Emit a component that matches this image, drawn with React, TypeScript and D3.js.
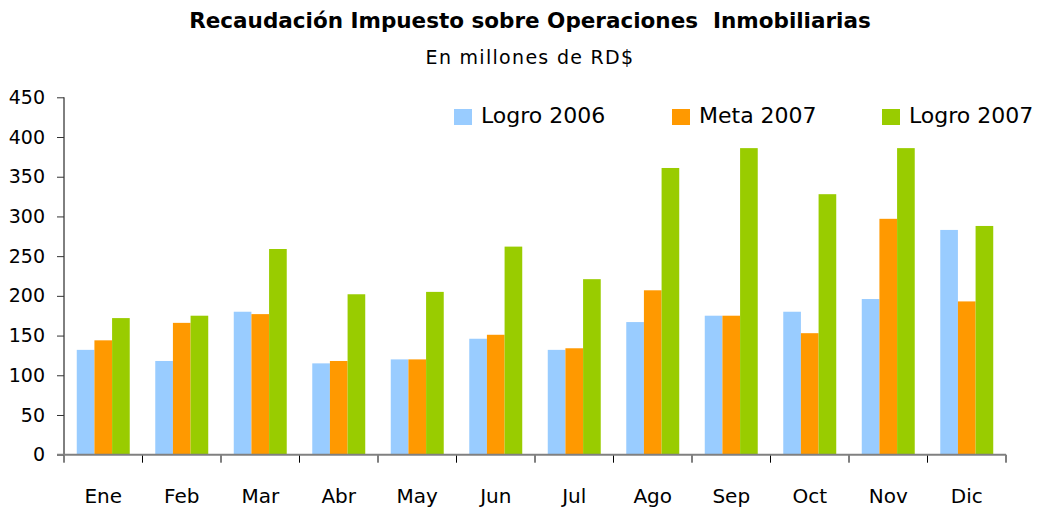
import React, { useEffect, useRef } from "react";
import * as d3 from "d3";

const months = ["Ene", "Feb", "Mar", "Abr", "May", "Jun", "Jul", "Ago", "Sep", "Oct", "Nov", "Dic"];
const seriesNames = ["Logro 2006", "Meta 2007", "Logro 2007"];
const logro2006 = [132, 118, 180, 115, 120, 146, 132, 167, 175, 180, 196, 283];
const meta2007 = [144, 166, 177, 118, 120, 151, 134, 207, 175, 153, 297, 193];
const logro2007 = [172, 175, 259, 202, 205, 262, 221, 361, 386, 328, 386, 288];
const yTicks = [0, 50, 100, 150, 200, 250, 300, 350, 400, 450];

const colors = ["#99CCFF", "#FF9900", "#99CC00"];
const font = "'DejaVu Sans', Verdana, sans-serif";

const App = () => {
  const svgRef = useRef<SVGSVGElement>(null);
  const width = 1040;
  const height = 508;

  useEffect(() => {
    const svg = d3.select(svgRef.current);
    svg.selectAll("*").remove();

    const left = 64;
    const right = 1006;
    const top = 97.3;
    const bottom = 454.7;

    const x = d3
      .scaleBand<string>()
      .domain(months)
      .range([left, right])
      .paddingInner(0.325)
      .paddingOuter(0.1625);
    const x1 = d3.scaleBand<string>().domain(seriesNames).range([0, x.bandwidth()]);
    const y = d3.scaleLinear().domain([0, 450]).range([bottom, top]);

    const table = months.map((m, i) => ({
      month: m,
      values: [logro2006[i], meta2007[i], logro2007[i]],
    }));

    // bars
    const groups = svg
      .append("g")
      .selectAll("g")
      .data(table)
      .join("g")
      .attr("transform", (d) => `translate(${x(d.month)},0)`);

    groups
      .selectAll("rect")
      .data((d) => d.values.map((v, k) => ({ name: seriesNames[k], v, k })))
      .join("rect")
      .attr("x", (d) => x1(d.name)!)
      .attr("width", x1.bandwidth())
      .attr("y", (d) => y(d.v))
      .attr("height", (d) => y(0) - y(d.v))
      .attr("fill", (d) => colors[d.k]);

    // y axis
    const yAxis = d3
      .axisLeft(y)
      .tickValues(yTicks)
      .tickSize(7)
      .tickPadding(12)
      .tickFormat((d) => String(d));
    const gy = svg.append("g").attr("transform", `translate(${left},0)`).call(yAxis);
    gy.select(".domain").attr("stroke", "#000").attr("d", `M0,${top}V${bottom}`);
    gy.selectAll(".tick line").attr("stroke", "#333");
    gy.selectAll(".tick text")
      .attr("font-family", font)
      .attr("font-size", 19)
      .attr("fill", "#000");

    // x axis
    const edges = months.map((m) => x(m)! - (x.step() - x.bandwidth()) / 2).concat([right]);
    svg
      .append("g")
      .selectAll("line")
      .data(edges)
      .join("line")
      .attr("x1", (d) => d)
      .attr("x2", (d) => d)
      .attr("y1", bottom)
      .attr("y2", bottom + 8)
      .attr("stroke", "#000");
    svg
      .append("line")
      .attr("x1", left - 7)
      .attr("x2", right)
      .attr("y1", bottom)
      .attr("y2", bottom)
      .attr("stroke", "#808080")
      .attr("stroke-width", 2);

    svg
      .append("g")
      .selectAll("text")
      .data(months)
      .join("text")
      .attr("x", (d) => x(d)! + x.bandwidth() / 2)
      .attr("y", 503)
      .attr("text-anchor", "middle")
      .attr("font-family", font)
      .attr("font-size", 20)
      .attr("fill", "#000")
      .text((d) => d);

    // titles
    svg
      .append("text")
      .attr("x", 530)
      .attr("y", 28)
      .attr("text-anchor", "middle")
      .attr("font-family", font)
      .attr("font-weight", "bold")
      .attr("font-size", 21.5)
      .style("white-space", "pre")
      .text("Recaudación Impuesto sobre Operaciones  Inmobiliarias");
    svg
      .append("text")
      .attr("x", 530)
      .attr("y", 64)
      .attr("text-anchor", "middle")
      .attr("font-family", font)
      .attr("font-size", 19)
      .attr("letter-spacing", 1.3)
      .text("En millones de RD$");

    // legend
    const legendX = [454, 672, 882];
    const lg = svg
      .append("g")
      .selectAll("g")
      .data(seriesNames)
      .join("g")
      .attr("transform", (d, i) => `translate(${legendX[i]},109)`);
    lg.append("rect")
      .attr("width", 18)
      .attr("height", 16)
      .attr("fill", (d, i) => colors[i]);
    lg.append("text")
      .attr("x", 27)
      .attr("y", 14)
      .attr("font-family", font)
      .attr("font-size", 22)
      .attr("fill", "#000")
      .text((d) => d);
  }, []);

  return (
    <svg
      ref={svgRef}
      width={width}
      height={height}
      style={{ position: "absolute", left: 0, top: 0, background: "#fff" }}
    ></svg>
  );
};

export default App;
